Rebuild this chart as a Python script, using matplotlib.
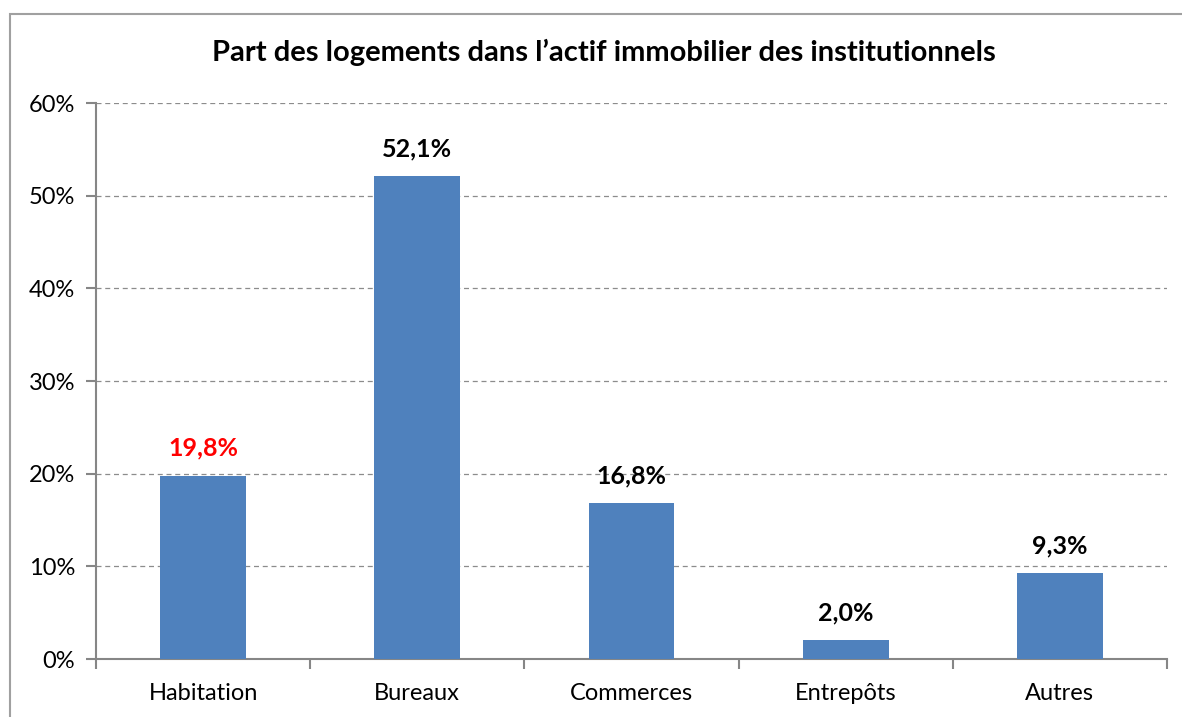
import matplotlib.pyplot as plt
from matplotlib.patches import Rectangle
from matplotlib.ticker import FuncFormatter, FixedLocator

# data
categories = ['Habitation', 'Bureaux', 'Commerces', 'Entrepôts', 'Autres']
shares = [19.8, 52.1, 16.8, 2.0, 9.3]
label_colors = ['red', 'black', 'black', 'black', 'black']

plt.rcParams['font.family'] = ['Lato', 'DejaVu Sans']

W, H = 1182, 717
fig = plt.figure(figsize=(W / 100, H / 100), dpi=100)

# outer chart border (only left and top are visible in the image)
fig.patches.append(Rectangle((10 / W, -0.1), 1.2, 1 - 14 / H + 0.1,
                             transform=fig.transFigure, fill=False,
                             edgecolor='#a0a0a0', linewidth=1.5))

ax = fig.add_axes([96 / W, 1 - 659 / H, (1167 - 96) / W, (659 - 103) / H])

x = range(len(categories))
ax.bar(x, shares, width=0.4, color='#4F81BD', zorder=3)

for i, v in enumerate(shares):
    ax.text(i, v + 1.7, f'{v:.1f}%'.replace('.', ','), ha='center', va='bottom',
            fontsize=18, fontweight='bold', color=label_colors[i])

ax.set_xlim(-0.5, len(categories) - 0.5)
ax.set_ylim(0, 60)
ax.set_yticks(range(0, 61, 10))
ax.yaxis.set_major_formatter(FuncFormatter(lambda v, p: f'{v:.0f}%'))
ax.set_xticks(list(x))
ax.set_xticklabels(categories)
ax.xaxis.set_minor_locator(FixedLocator([i - 0.5 for i in range(len(categories) + 1)]))
ax.tick_params(axis='x', which='major', length=0, pad=17, labelsize=17)
ax.tick_params(axis='x', which='minor', length=7, width=1.5, color='#868686')
ax.tick_params(axis='y', length=7, width=1.5, color='#868686', labelsize=17, pad=8)

ax.grid(axis='y', linestyle=(0, (4, 3)), color='#8c8c8c', linewidth=0.9, zorder=0)
for s in ['top', 'right']:
    ax.spines[s].set_visible(False)
for s in ['left', 'bottom']:
    ax.spines[s].set_color('#868686')
    ax.spines[s].set_linewidth(1.5)

fig.text(604 / W, 1 - 52 / H, 'Part des logements dans l\u2019actif immobilier des institutionnels',
         ha='center', va='center', fontsize=21, fontweight='bold')

fig.savefig('out.png', dpi=100)
